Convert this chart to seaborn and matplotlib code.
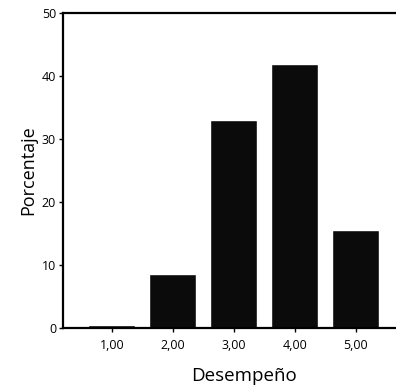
import matplotlib
matplotlib.use("Agg")
import matplotlib.pyplot as plt
import pandas as pd
import seaborn as sns

# valores
categorias = ["1,00", "2,00", "3,00", "4,00", "5,00"]
porcentajes = [0.4, 8.6, 33.1, 41.9, 15.6]
ticks_y = [0, 10, 20, 30, 40, 50]

df = pd.DataFrame({"Desempeño": categorias, "Porcentaje": porcentajes})

sns.set_style("ticks")
plt.rcParams["font.family"] = ["Open Sans", "DejaVu Sans"]
plt.rcParams["text.color"] = "black"
plt.rcParams["axes.labelcolor"] = "black"

fig = plt.figure(figsize=(3.96, 3.87), dpi=100)
# el eje sigue un poco mas alla del borde derecho, como en la imagen recortada
ax = fig.add_axes([0.159, 0.1525, 0.914, 0.8135])

sns.barplot(data=df, x="Desempeño", y="Porcentaje", color="#0b0b0b",
            saturation=1, width=0.77, ax=ax)

ax.set_xlim(-0.8, 5.13)
ax.set_ylim(0, 50)
ax.set_yticks(ticks_y)
ax.set_yticklabels([str(t) for t in ticks_y])

ax.tick_params(axis="both", labelsize=9, length=3, width=1, colors="black")
ax.tick_params(axis="x", pad=5)
ax.tick_params(axis="y", pad=2)
ax.set_xlabel("Desempeño", fontsize=13.5, labelpad=11)
ax.set_ylabel("Porcentaje", fontsize=13, labelpad=3)

for side in ["left", "top", "bottom"]:
    ax.spines[side].set_linewidth(1.6)
    ax.spines[side].set_color("black")
ax.spines["right"].set_visible(False)

fig.savefig("out.png", dpi=100)
